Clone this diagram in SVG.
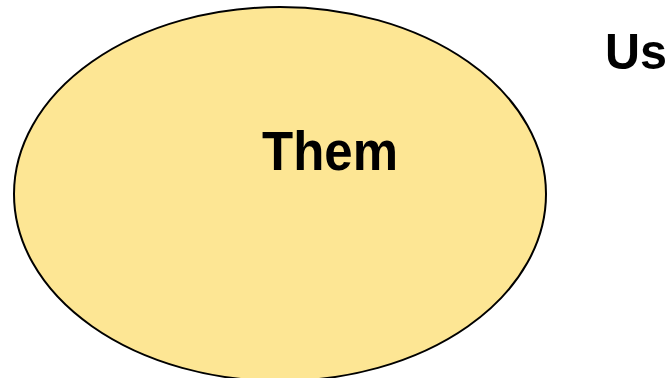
<svg xmlns="http://www.w3.org/2000/svg" width="669" height="378" viewBox="0 0 669 378">
<style>
.lbl{font-family:"Liberation Sans",Arial,sans-serif;font-weight:bold;fill:#000}
</style>
<rect width="669" height="378" fill="#fff"/>
<g id="them">
<ellipse cx="280" cy="194" rx="266" ry="187" fill="#fde694" stroke="#000" stroke-width="2"/>
<text class="lbl" x="262" y="170" font-size="55" textLength="136" lengthAdjust="spacingAndGlyphs">Them</text>
</g>
<g id="us">
<text class="lbl" x="605" y="69" font-size="50" textLength="62" lengthAdjust="spacingAndGlyphs">Us</text>
</g>
<g id="connectors"></g>
</svg>
